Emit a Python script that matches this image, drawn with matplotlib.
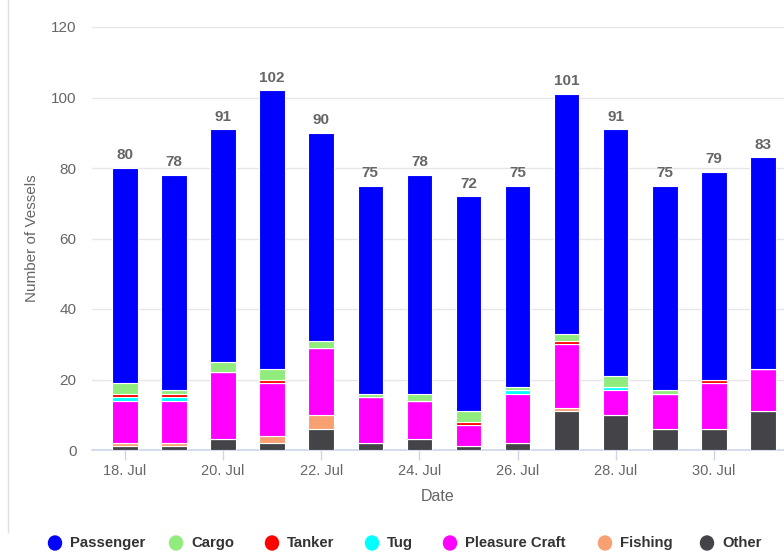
import matplotlib
matplotlib.use('Agg')
import matplotlib.pyplot as plt
from matplotlib.patches import Ellipse

# daily vessel counts per type, 18-31 July
days = [18, 19, 20, 21, 22, 23, 24, 25, 26, 27, 28, 29, 30, 31]
passenger = [61, 61, 66, 79, 59, 59, 62, 61, 57, 68, 70, 58, 59, 60]
cargo = [3, 1, 3, 3, 2, 1, 2, 3, 1, 2, 3, 1, 0, 0]
tanker = [1, 1, 0, 1, 0, 0, 0, 1, 0, 1, 0, 0, 1, 0]
tug = [1, 1, 0, 0, 0, 0, 0, 0, 1, 0, 1, 0, 0, 0]
pleasure = [12, 12, 19, 15, 19, 13, 11, 6, 14, 18, 7, 10, 13, 12]
fishing = [1, 1, 0, 2, 4, 0, 0, 0, 0, 1, 0, 0, 0, 0]
other = [1, 1, 3, 2, 6, 2, 3, 1, 2, 11, 10, 6, 6, 11]

tick_days = [18, 20, 22, 24, 26, 28, 30]
tick_labels = ['18. Jul', '20. Jul', '22. Jul', '24. Jul', '26. Jul', '28. Jul', '30. Jul']

# bottom to top
series = [
    ('Other', other, '#434348'),
    ('Fishing', fishing, '#f7a072'),
    ('Pleasure Craft', pleasure, '#ff00ff'),
    ('Tug', tug, '#00ffff'),
    ('Tanker', tanker, '#ff0000'),
    ('Cargo', cargo, '#90ed7d'),
    ('Passenger', passenger, '#0000ff'),
]

plt.rcParams['font.family'] = ['Liberation Sans Narrow', 'Liberation Sans', 'DejaVu Sans']

W, H = 784, 554
fig = plt.figure(figsize=(W / 100, H / 100), dpi=100)
ax = fig.add_axes([92 / W, (H - 450) / H, (W - 92) / W, 423 / H])

bottom = [0] * len(days)
for name, vals, col in series:
    ax.bar(days, vals, bottom=bottom, width=0.52, color=col,
           edgecolor='white', linewidth=0.8, zorder=3)
    bottom = [b + v for b, v in zip(bottom, vals)]

for d, tot in zip(days, bottom):
    ax.annotate(str(tot), (d, tot), xytext=(0, 4), textcoords='offset points',
                ha='center', va='bottom', fontsize=11, fontweight='bold',
                color='#666666', zorder=4)

ax.set_xlim(17.33, 31.43)
ax.set_ylim(0, 120)
ax.set_yticks([0, 20, 40, 60, 80, 100, 120])
ax.set_xticks(tick_days)
ax.set_xticklabels(tick_labels)
ax.grid(axis='y', color='#e6e6e6', linewidth=1, zorder=0)
ax.tick_params(axis='y', length=0, pad=11, labelsize=11, labelcolor='#666666')
ax.tick_params(axis='x', length=7, width=1, color='#ccd6eb', pad=3,
               labelsize=10.5, labelcolor='#666666')
for s in ['top', 'right', 'left']:
    ax.spines[s].set_visible(False)
ax.spines['bottom'].set_color('#ccd6eb')
ax.spines['bottom'].set_linewidth(1.2)

ax.set_ylabel('Number of Vessels', fontsize=11, color='#666666', labelpad=9)
ax.set_xlabel('Date', fontsize=11.5, color='#666666', labelpad=8)

# legend row along the bottom
legend_x = [55, 176, 272, 372, 450, 605, 707]
for (name, vals, col), lx in zip(reversed(series), legend_x):
    fig.patches.append(Ellipse((lx / W, (H - 543) / H), 13 / W, 14 / H,
                               transform=fig.transFigure, color=col))
    fig.text((lx + 15) / W, (H - 543) / H, name, fontsize=10.7,
             fontweight='bold', color='#333333', va='center', ha='left')

# page border on the left
fig.add_artist(plt.Line2D([8 / W, 8 / W], [0.04, 1], transform=fig.transFigure,
                          color='#e0e0e0', linewidth=1))

fig.savefig('out.png', dpi=100)
